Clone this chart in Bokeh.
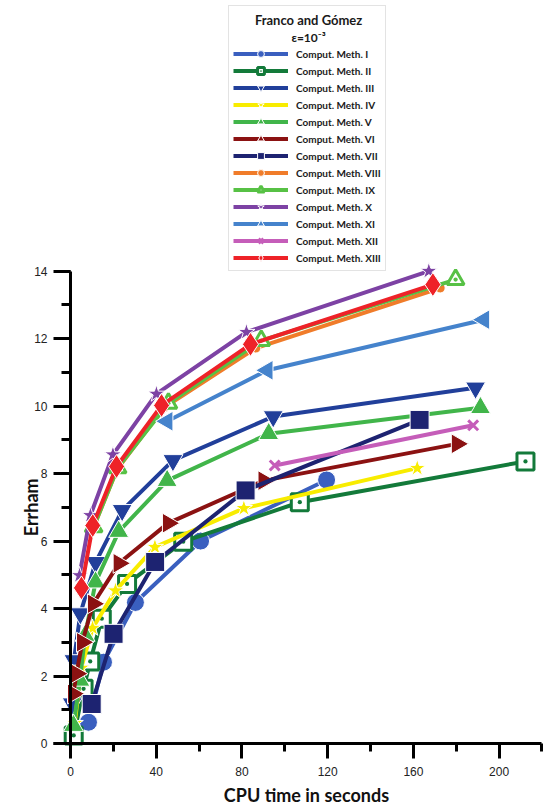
import math
from bokeh.plotting import figure
from bokeh.models import Range1d, SingleIntervalTicker, Legend, LegendItem, Label
from bokeh.embed import file_html
from bokeh.resources import INLINE

# ---------------- data ----------------
methods = ["Comput. Meth. I", "Comput. Meth. II", "Comput. Meth. III", "Comput. Meth. IV",
           "Comput. Meth. V", "Comput. Meth. VI", "Comput. Meth. VII", "Comput. Meth. VIII",
           "Comput. Meth. IX", "Comput. Meth. X", "Comput. Meth. XI", "Comput. Meth. XII",
           "Comput. Meth. XIII"]

x_I = [8.4, 15.4, 30.3, 60.7, 119.5]
y_I = [0.63, 2.41, 4.18, 6.00, 7.81]
x_II = [1.5, 6.1, 9.2, 14.6, 26.4, 52.6, 107.0, 212.3]
y_II = [0.24, 1.62, 2.43, 3.70, 4.73, 5.98, 7.15, 8.36]
x_III = [0.8, 1.6, 4.6, 11.7, 24.1, 47.8, 94.6, 189.0]
y_III = [1.18, 2.46, 3.85, 5.37, 6.91, 8.39, 9.69, 10.54]
x_IV = [2.0, 5.0, 10.3, 21.0, 39.4, 80.9, 161.8]
y_IV = [0.60, 2.24, 3.42, 4.53, 5.82, 6.97, 8.16]
x_V = [1.4, 4.4, 6.8, 11.7, 22.5, 45.1, 92.5, 191.3]
y_V = [0.53, 1.87, 3.20, 4.78, 6.28, 7.79, 9.18, 9.95]
x_VI = [1.3, 2.8, 5.5, 10.6, 22.6, 45.6, 90.2, 180.4]
y_VI = [1.47, 2.07, 3.00, 4.14, 5.34, 6.53, 7.79, 8.88]
x_VII = [9.9, 20.1, 39.5, 81.7, 162.9]
y_VII = [1.17, 3.25, 5.38, 7.50, 9.59]
x_VIII = [10.6, 21.7, 43.5, 86.5, 172.5]
y_VIII = [6.38, 8.12, 9.95, 11.72, 13.50]
x_IX = [10.8, 22.0, 45.7, 89.0, 179.7]
y_IX = [6.42, 8.17, 10.08, 11.94, 13.75]
x_X = [4.2, 9.3, 19.8, 40.1, 82.1, 167.2]
y_X = [4.98, 6.76, 8.56, 10.36, 12.19, 14.00]
x_XI = [45.1, 91.8, 192.9]
y_XI = [9.55, 11.06, 12.56]
x_XII = [95.3, 187.9]
y_XII = [8.24, 9.43]
x_XIII = [5.1, 10.4, 21.5, 42.5, 84.0, 169.1]
y_XIII = [4.61, 6.46, 8.21, 10.02, 11.83, 13.60]

xs = [x_I, x_II, x_III, x_IV, x_V, x_VI, x_VII, x_VIII, x_IX, x_X, x_XI, x_XII, x_XIII]
ys = [y_I, y_II, y_III, y_IV, y_V, y_VI, y_VII, y_VIII, y_IX, y_X, y_XI, y_XII, y_XIII]

legend_title = "Franco and Gómez"
legend_subtitle = "ε=10⁻³"
x_label = "CPU time in seconds"
y_label = "Errham"

# ---------------- styles ----------------
colors = ["#3a5fbf", "#137a3a", "#213f9a", "#f8ec00", "#41b54a", "#8b1212", "#1d2371",
          "#f07c2a", "#57c145", "#7d42a4", "#4583cc", "#c55db9", "#ee2228"]
markers = ["circle", "square_dot", "inverted_triangle", "star", "triangle", "triangle", "square",
           "circle", "triangle_dot", "star", "triangle", "x", "diamond"]
angles = [0, 0, 0, 0, 0, -math.pi / 2, 0, 0, 0, 0, math.pi / 2, 0, 0]
sizes = [18, 17, 20, 18, 20, 20, 19, 10, 17, 18, 20, 14, 24]
hollow = [False, True, False, False, False, False, False, False, True, False, False, False, False]

p = figure(frame_width=550, frame_height=810,
           x_range=Range1d(-32.66, 223.98), y_range=Range1d(-1.986, 22.02),
           output_backend="svg", toolbar_location=None,
           min_border_left=0, min_border_right=0, min_border_top=0, min_border_bottom=0)
p.grid.visible = False
p.outline_line_color = None
p.background_fill_color = "white"

items = []
for i, name in enumerate(methods):
    c = colors[i]
    lr = p.line(xs[i], ys[i], line_color=c, line_width=4)
    if markers[i] == "x":
        sr = p.scatter(xs[i], ys[i], marker="x", size=sizes[i], line_color=c, line_width=3)
    elif hollow[i]:
        sr = p.scatter(xs[i], ys[i], marker=markers[i], size=sizes[i], fill_color="white",
                       line_color=c, line_width=3, angle=angles[i])
    else:
        sr = p.scatter(xs[i], ys[i], marker=markers[i], size=sizes[i], fill_color=c,
                       line_color="white", line_width=1, angle=angles[i])
    items.append(LegendItem(label=name, renderers=[lr, sr]))

# ---------------- axes ----------------
xa = p.xaxis[0]
xa.ticker = SingleIntervalTicker(interval=40, num_minor_ticks=2)
xa.bounds = (-8, 220)
xa.fixed_location = 0
ya = p.yaxis[0]
ya.ticker = SingleIntervalTicker(interval=2, num_minor_ticks=2)
ya.bounds = (0, 14)
ya.fixed_location = 0

for ax in (xa, ya):
    ax.axis_line_width = 3
    ax.axis_line_color = "black"
    ax.major_tick_line_width = 3
    ax.minor_tick_line_width = 3
    ax.major_tick_line_color = "black"
    ax.minor_tick_line_color = "black"
    ax.major_tick_in = 0
    ax.minor_tick_in = 0
    ax.major_label_text_font = "Liberation Sans"
    ax.major_label_text_font_size = "12px"
    ax.major_label_text_color = "#222222"

xa.major_tick_out = 15
xa.minor_tick_out = 8
xa.major_label_standoff = 9
ya.major_tick_out = 17
ya.minor_tick_out = 9
ya.major_label_standoff = 6

p.add_layout(Label(x=-18.2, y=7, x_units="data", y_units="data", angle=math.pi / 2,
                   text=y_label, text_align="center", text_baseline="middle",
                   text_font="Lato", text_font_style="bold", text_font_size="18px",
                   text_color="#111111"))
p.add_layout(Label(x=110.1, y=-1.54, x_units="data", y_units="data",
                   text=x_label, text_align="center", text_baseline="middle",
                   text_font="Lato", text_font_style="bold", text_font_size="18px",
                   text_color="#111111"))

# ---------------- legend ----------------
legend = Legend(items=items, location=(228, 539), glyph_width=55, glyph_height=17,
                spacing=0, label_height=17, label_standoff=8, padding=4,
                title=" ", title_text_font_size="12px", title_standoff=21,
                label_text_font="Lato", label_text_font_style="bold",
                label_text_font_size="10px", label_text_color="#1a1a1a",
                border_line_color="#c8c8c8", border_line_width=1,
                background_fill_alpha=0.0)
p.add_layout(legend)

p.add_layout(Label(x=111.1, y=21.43, x_units="data", y_units="data", text=legend_title,
                   text_align="center", text_baseline="middle", text_font="Lato",
                   text_font_style="bold", text_font_size="13px", text_color="#1a1a1a"))
p.add_layout(Label(x=111.1, y=20.93, x_units="data", y_units="data", text=legend_subtitle,
                   text_align="center", text_baseline="middle", text_font="Lato",
                   text_font_style="bold", text_font_size="12px", text_color="#1a1a1a"))

open("out.html", "w").write(file_html(p, INLINE))
